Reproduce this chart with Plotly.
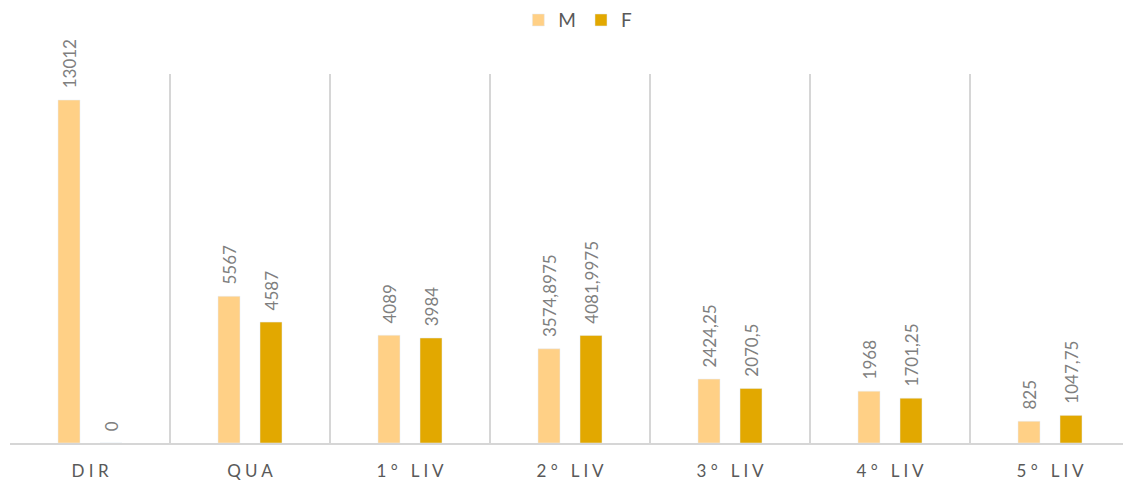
import plotly.graph_objects as go

# Categories and values
categories = ["DIR", "QUA", "1° LIV", "2° LIV", "3° LIV", "4° LIV", "5° LIV"]
values_m = [13012, 5567, 4089, 3574.8975, 2424.25, 1968, 825]
values_f = [0, 4587, 3984, 4081.9975, 2070.5, 1701.25, 1047.75]


def spaced(s):
    # imitates the letter spacing of the axis labels
    return " ".join(s)


def it_fmt(v):
    # italian decimal comma, small lead so the label floats above the bar
    s = repr(v).replace(".", ",") if v != int(v) else str(int(v))
    return "\u00a0\u00a0" + s


fig = go.Figure()
for name, vals, col in [("M", values_m, "#FFD086"), ("F", values_f, "#E2A800")]:
    fig.add_trace(go.Bar(
        name=name, x=categories, y=vals,
        marker_color=col,
        text=[it_fmt(v) for v in vals],
        textposition="outside", textangle=-90,
        textfont=dict(size=17, color="#7F7F7F"),
        constraintext="none",
        cliponaxis=False,
    ))

# the page body adds 8px around the figure, so the figure is 8px smaller
fig.update_layout(
    width=1123, height=474,
    barmode="group", bargap=0.475, bargroupgap=0.476,
    plot_bgcolor="white", paper_bgcolor="white",
    font=dict(family="Lato, 'Open Sans', sans-serif", color="#595959"),
    margin=dict(l=2, r=1, t=66, b=39, autoexpand=False),
    legend=dict(orientation="h", x=0.507, xanchor="center", y=1.146, yanchor="middle",
                font=dict(size=19), tracegroupgap=0),
    showlegend=True,
)
fig.update_xaxes(
    tickson="boundaries", showgrid=True, gridcolor="#D6D6D6", gridwidth=1.5,
    ticks="", showline=True, linecolor="#D6D6D6", linewidth=1.5,
    tickvals=categories, ticktext=[spaced(c) for c in categories],
    tickfont=dict(size=17, color="#595959"), automargin=False,
    ticklabelstandoff=12,
)
fig.update_yaxes(range=[0, 14000], visible=False, showgrid=False)

fig.write_html("out.html")
